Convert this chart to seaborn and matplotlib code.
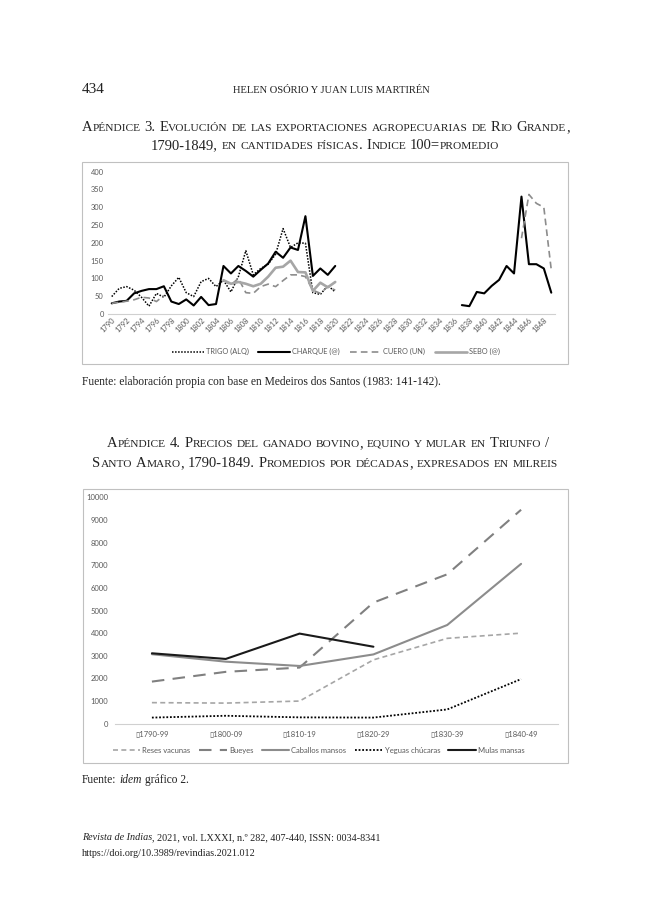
import numpy as np
import pandas as pd
import seaborn as sns
import matplotlib.pyplot as plt
from matplotlib.patches import Rectangle
from matplotlib.lines import Line2D

nan = np.nan

# --- Apéndice 3: índice 100 = promedio, 1790-1849 ---
years = list(range(1790, 1850))
trigo = ([49, 72, 77, 67, 47, 22, 58, 47, 79, 103, 60, 49, 91, 100, 77,
          95, 62, 105, 178, 110, 128, 140, 168, 240, 187, 200, 199, 60, 55, 80, 62]
         + [nan] * 29)
charque = ([30, 35, 37, 58, 65, 70, 70, 78, 35, 28, 41, 24, 48, 25, 28,
            135, 114, 135, 121, 105, 124, 142, 175, 158, 187, 180, 275, 107, 128, 110, 135]
           + [nan] * 16
           + [25, 22, 62, 58, 79, 96, 135, 114, 330, 140, 140, 128, 60])
cuero = ([30, 33, 36, 40, 47, 45, 35, 52]
         + [nan] * 7
         + [95, 82, 100, 60, 58, 77, 84, 77, 94, 110, 110, 105, 67, 58, 77, 67]
         + [nan] * 24
         + [213, 336, 311, 300, 124])
sebo = ([nan] * 15
        + [95, 85, 90, 85, 78, 85, 105, 130, 133, 150, 118, 117, 65, 88, 75, 90]
        + [nan] * 29)
year_ticks = list(range(1790, 1849, 2))

# --- Apéndice 4: precios por décadas, en milreis ---
decadas = ["1790-99", "1800-09", "1810-19", "1820-29", "1830-39", "1840-49"]
reses = [930, 910, 1000, 2820, 3770, 4000]
bueyes = [1860, 2290, 2480, 5350, 6600, 9450]
caballos = [3070, 2740, 2550, 3060, 4360, 7060]
yeguas = [270, 350, 280, 270, 630, 1970]
mulas = [3110, 2860, 3980, 3400]

sns.set_style("white")
plt.rcParams['font.family'] = ['Lato', 'DejaVu Sans']
serif = 'Liberation Serif'
tick_col = '#595959'

W, H = 650, 919
fig = plt.figure(figsize=(6.5, 9.19), dpi=100)
fig.patch.set_facecolor('white')
rend = fig.canvas.get_renderer()


def fx(x):
    return x / W


def fy(y):
    return 1 - y / H


def caps_line(y, s, big, small, x0=None, x1=None, xc=None):
    # falsa versalita: mayúsculas grandes, minúsculas en mayúscula pequeña
    pieces = []
    for ch in s:
        kind = 'sp' if ch == ' ' else ('lo' if ch.islower() else 'up')
        if pieces and pieces[-1][0] == kind and kind != 'sp':
            pieces[-1][1] += ch
        else:
            pieces.append([kind, ch])
    arts = []
    nsp = 0
    for kind, txt in pieces:
        if kind == 'sp':
            arts.append((None, big * 0.25 / 72 * fig.dpi))
            nsp += 1
        else:
            t = fig.text(0, fy(y), txt.upper(), fontsize=big if kind == 'up' else small,
                         family=serif, va='baseline', color='#222222')
            arts.append((t, t.get_window_extent(rend).width))
    total = sum(w for _, w in arts)
    if x0 is not None:
        extra = ((x1 - x0) - total) / max(nsp, 1)
        x = x0
    else:
        extra = 0
        x = xc - total / 2
    for t, w in arts:
        if t is None:
            x += w + extra
        else:
            t.set_x(fx(x))
            x += w


def runs_line(x, y, parts, size):
    for txt, style in parts:
        if txt == ' ':
            x += size * 0.25 / 72 * fig.dpi
            continue
        t = fig.text(fx(x), fy(y), txt, fontsize=size, style=style, family=serif,
                     va='baseline', color='#222222')
        x += t.get_window_extent(rend).width


def box(x0, y0, x1, y1):
    fig.add_artist(Rectangle((fx(x0), fy(y1)), fx(x1) - fx(x0), (y1 - y0) / H,
                             transform=fig.transFigure, fill=False, ec='#c0c0c0', lw=0.8))


def segments(xs, vals):
    df = pd.DataFrame({'x': xs, 'v': vals})
    df['seg'] = df['v'].isna().cumsum()
    df = df.dropna()
    return [g for _, g in df.groupby('seg')]


# cabecera de página
fig.text(fx(82), fy(93), "434", fontsize=11, family=serif, va='baseline', color='#222222')
fig.text(fx(331), fy(93), "HELEN OSÓRIO Y JUAN LUIS MARTIRÉN", fontsize=7.6, family=serif,
         va='baseline', ha='center', color='#222222')

# títulos apéndice 3
caps_line(131, "Apéndice 3. Evolución de las exportaciones agropecuarias de Rio Grande,",
          10.5, 8.2, x0=82, x1=570)
caps_line(149, "1790-1849, en cantidades físicas. Indice 100=promedio", 10.5, 8.2, xc=325)

# gráfico 1
box(82, 162, 568, 364)
ax1 = fig.add_axes([fx(108), fy(314), (555 - 108) / W, (314 - 171.7) / H])
styles1 = [
    (trigo, 'TRIGO (ALQ)', 'black', (1, 1), 1.1),
    (charque, 'CHARQUE (@)', 'black', None, 1.5),
    (cuero, 'CUERO (UN)', '#8c8c8c', (4, 2.5), 1.2),
    (sebo, 'SEBO (@)', '#a6a6a6', None, 1.9),
]
handles1 = []
for vals, lab, col, dash, lw in styles1:
    for g in segments(years, vals):
        sns.lineplot(data=g, x='x', y='v', ax=ax1, color=col, lw=lw,
                     linestyle='-' if dash is None else (0, dash))
    handles1.append(Line2D([], [], color=col, lw=lw,
                           linestyle='-' if dash is None else (0, dash), label=lab))
ax1.set_xlim(1789.5, 1849.5)
ax1.set_ylim(0, 400)
ax1.set_yticks(range(0, 401, 50))
ax1.set_xticks(year_ticks)
ax1.set_xticklabels([str(y) for y in year_ticks], rotation=45, ha='right',
                    rotation_mode='anchor')
ax1.tick_params(length=0, labelsize=5.4, colors=tick_col, pad=3)
ax1.tick_params(axis='x', pad=2)
ax1.set_xlabel('')
ax1.set_ylabel('')
for s in ['top', 'right', 'left']:
    ax1.spines[s].set_visible(False)
ax1.spines['bottom'].set_color('#d0d0d0')
ax1.spines['bottom'].set_linewidth(0.8)
ax1.legend(handles=handles1, loc='center', bbox_to_anchor=(0.51, -0.265), ncol=4,
           frameon=False, fontsize=5.3, handlelength=4.3, columnspacing=1.3,
           handletextpad=0.3, labelcolor=tick_col)

runs_line(82, 385, [("Fuente: elaboración propia con base en Medeiros dos Santos (1983: 141-142).",
                     'normal')], 8.3)

# títulos apéndice 4
caps_line(447, "Apéndice 4. Precios del ganado bovino, equino y mular en Triunfo /",
          10.5, 8.2, xc=328)
caps_line(467, "Santo Amaro, 1790-1849. Promedios por décadas, expresados en milreis",
          10.5, 8.2, xc=325)

# gráfico 2
box(83, 489, 568, 763)
ax2 = fig.add_axes([fx(115), fy(723.7), (558 - 115) / W, (723.7 - 497.3) / H])
pos = list(range(len(decadas)))
styles2 = [
    (reses, 'Reses vacunas', '#a6a6a6', (3, 2), 1.2),
    (bueyes, 'Bueyes', '#808080', (6, 4), 1.5),
    (caballos, 'Caballos mansos', '#8c8c8c', None, 1.5),
    (yeguas, 'Yeguas chúcaras', 'black', (1, 1), 1.3),
    (mulas, 'Mulas mansas', '#1a1a1a', None, 1.5),
]
handles2 = []
for vals, lab, col, dash, lw in styles2:
    d = pd.DataFrame({'x': pos[:len(vals)], 'v': vals})
    ls = '-' if dash is None else (0, dash)
    sns.lineplot(data=d, x='x', y='v', ax=ax2, color=col, lw=lw, linestyle=ls)
    handles2.append(Line2D([], [], color=col, lw=lw, linestyle=ls, label=lab))
ax2.set_xlim(-0.5, 5.5)
ax2.set_ylim(0, 10000)
ax2.set_yticks(range(0, 10001, 1000))
ax2.set_xticks(pos)
ax2.set_xticklabels(['\u25af' + d for d in decadas])
ax2.tick_params(length=0, labelsize=5.5, colors=tick_col, pad=5)
ax2.set_xlabel('')
ax2.set_ylabel('')
for s in ['top', 'right', 'left']:
    ax2.spines[s].set_visible(False)
ax2.spines['bottom'].set_color('#d0d0d0')
ax2.spines['bottom'].set_linewidth(0.8)
ax2.legend(handles=handles2, loc='center', bbox_to_anchor=(0.46, -0.118), ncol=5,
           frameon=False, fontsize=5.5, handlelength=3.6, columnspacing=1.1,
           handletextpad=0.3, labelcolor=tick_col)

runs_line(82, 783, [("Fuente:", 'normal'), (' ', None), ("idem", 'italic'), (' ', None),
                    ("gráfico 2.", 'normal')], 8.3)

# pie de página
runs_line(82, 840, [("Revista de Indias", 'italic'),
                    (", 2021, vol. LXXXI, n.º 282, 407-440, ISSN: 0034-8341", 'normal')], 7.3)
runs_line(82, 856, [("https://doi.org/10.3989/revindias.2021.012", 'normal')], 7.3)

fig.savefig('out.png', dpi=100, facecolor='white')
